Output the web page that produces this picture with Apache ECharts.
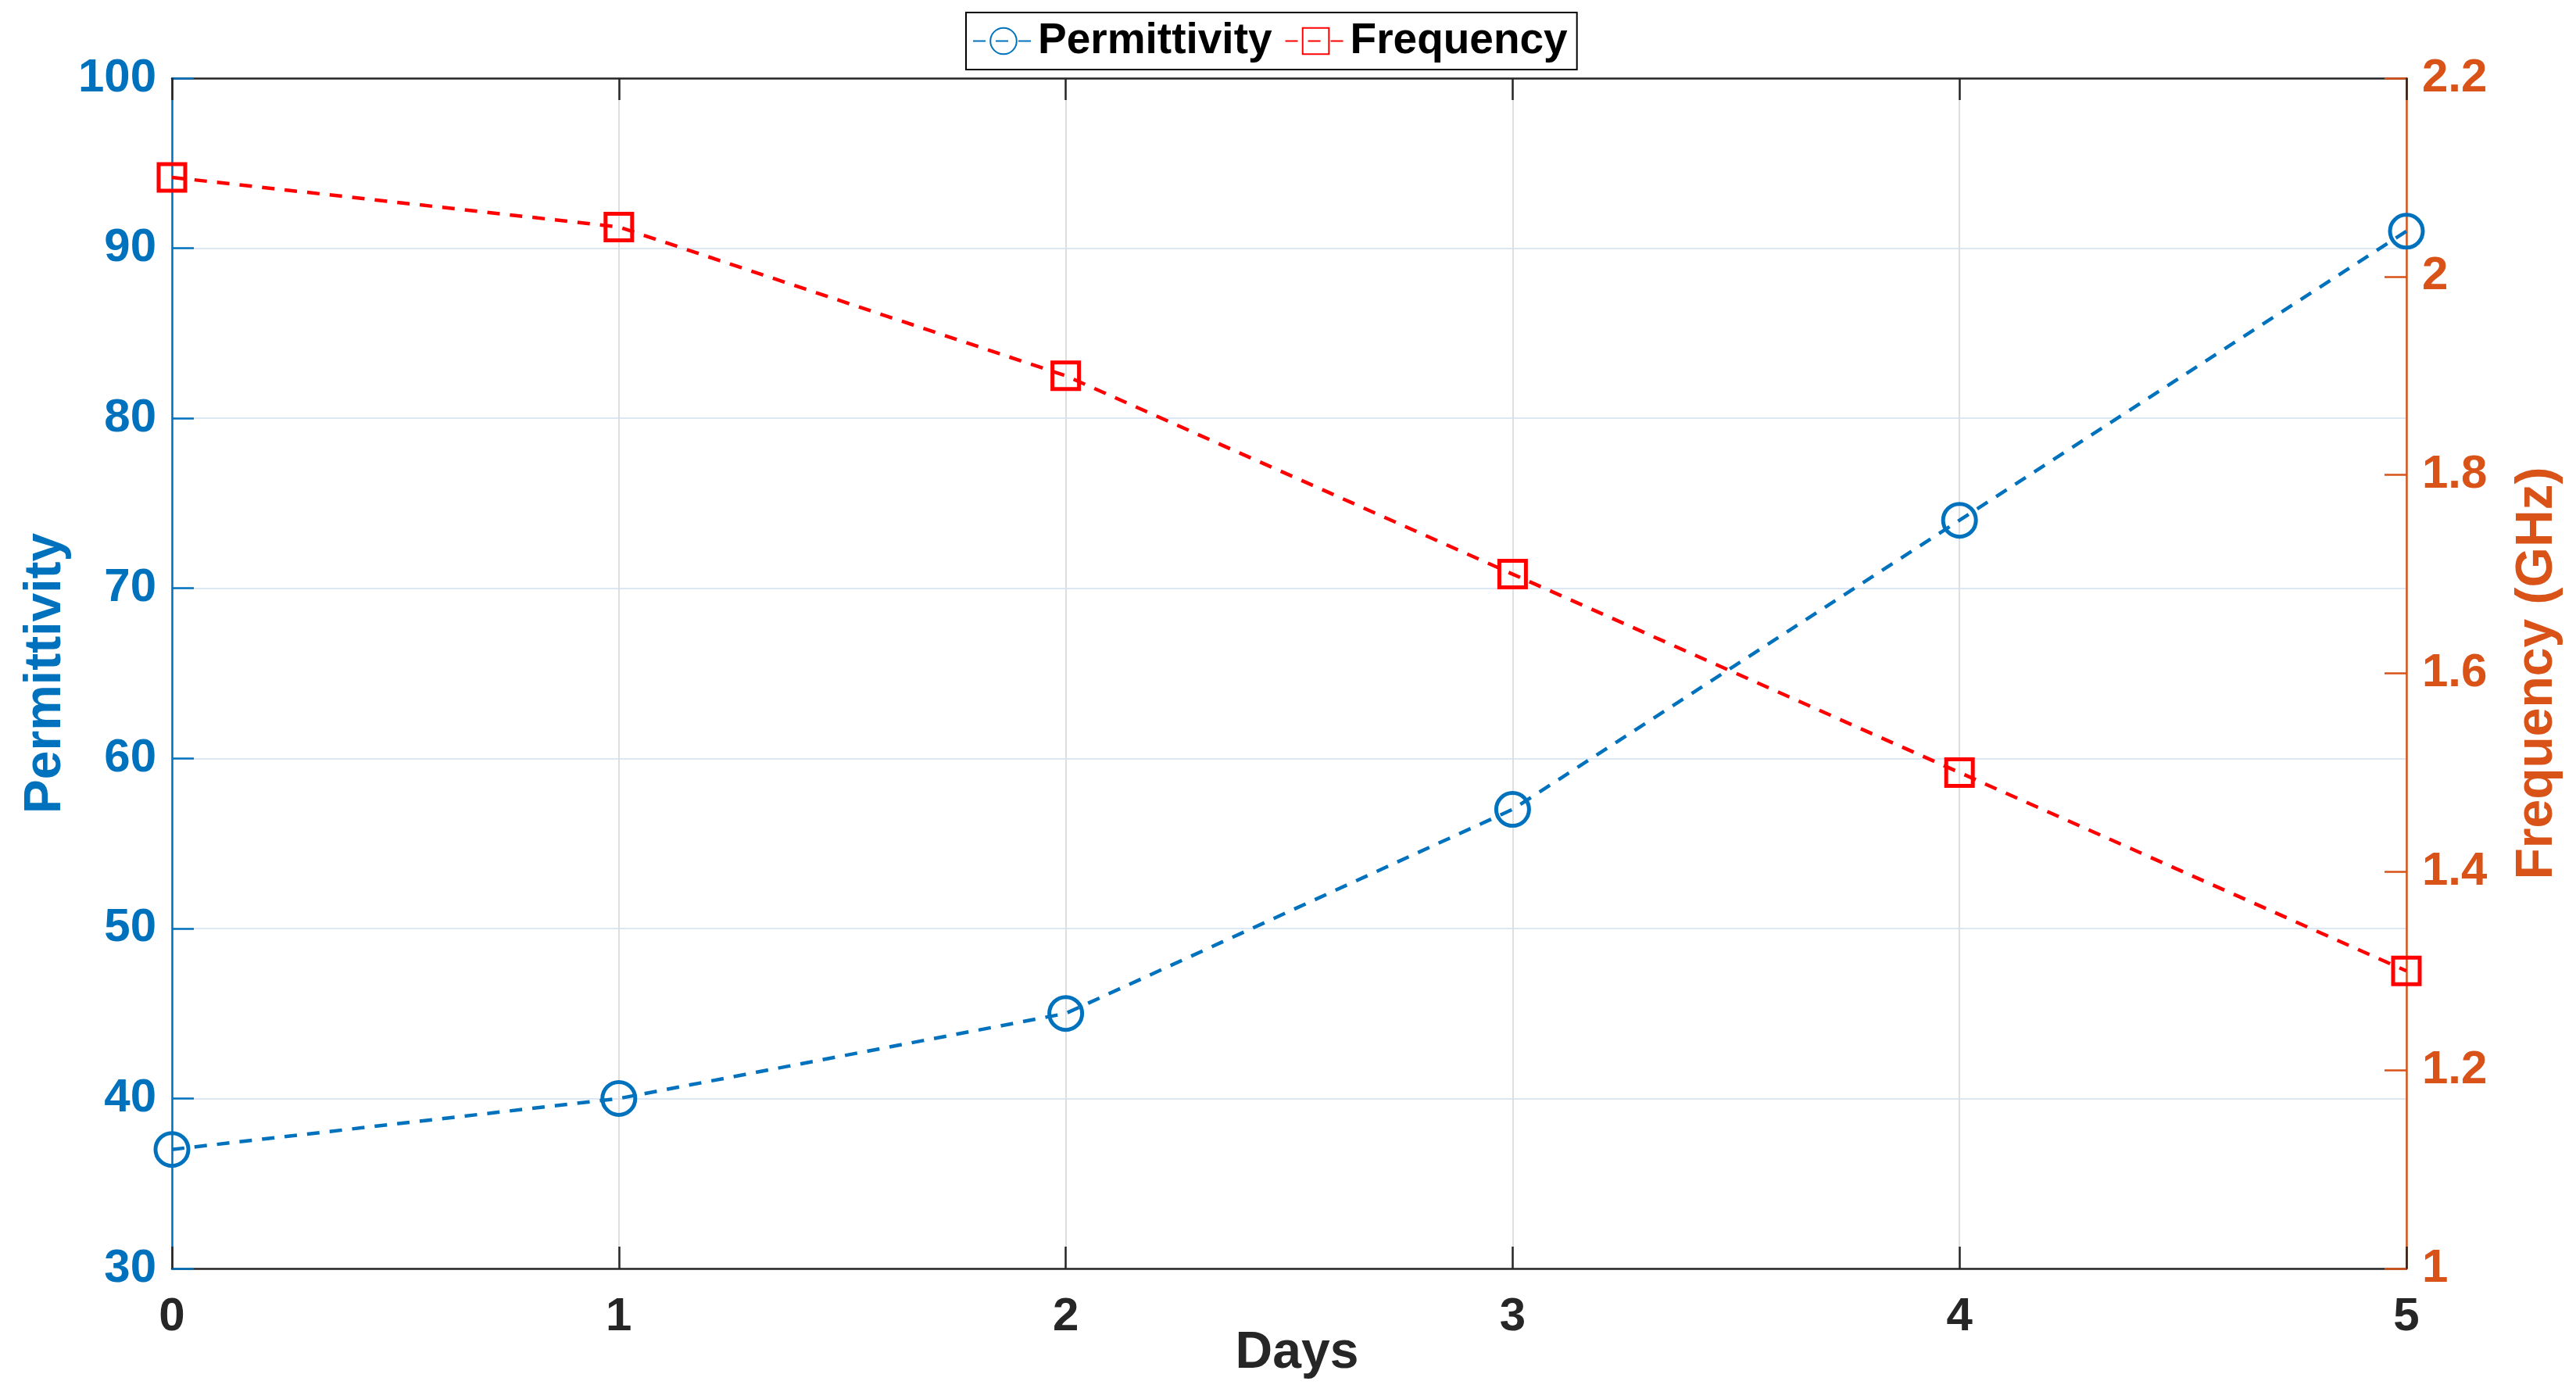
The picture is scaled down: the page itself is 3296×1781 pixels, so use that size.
<!DOCTYPE html>
<html>
<head>
<meta charset="utf-8">
<script src="https://cdn.jsdelivr.net/npm/echarts@6/dist/echarts.min.js"></script>
<style>html,body{margin:0;padding:0;background:#fff;}#chart{width:3296px;height:1781px;}</style>
</head>
<body>
<div id="chart"></div>
<script>
const days = [0, 1, 2, 3, 4, 5];
const permittivity = [37, 40, 45, 57, 74, 91];
const frequency = [2.1, 2.05, 1.9, 1.7, 1.5, 1.3];
const seriesNames = ['Permittivity', 'Frequency'];

const FONT = '"Liberation Sans", Arial, Helvetica, sans-serif';
const BLUE = '#0072BD', ORANGE = '#D95319', RED = '#FF0000', DARK = '#262626';

const chart = echarts.init(document.getElementById('chart'), null, {renderer: 'canvas'});
chart.setOption({
  animation: false,
  backgroundColor: '#fff',
  textStyle: {fontFamily: FONT},
  legend: {
    data: seriesNames,
    left: 1236, top: 16,
    padding: [9, 12, 9, 8],
    itemGap: 16,
    itemWidth: 78, itemHeight: 42,
    backgroundColor: '#fff',
    borderColor: '#000', borderWidth: 2,
    textStyle: {fontSize: 55, fontWeight: 'bold', color: '#000', fontFamily: FONT}
  },
  grid: {left: 220, right: 217, top: 100, bottom: 158, containLabel: false},
  xAxis: [{
    type: 'value', min: 0, max: 5, interval: 1,
    name: 'Days', nameLocation: 'middle', nameGap: 76, nameMoveOverlap: false,
    nameTextStyle: {fontSize: 66, fontWeight: 'bold', color: DARK, fontFamily: FONT, padding: [0, 0, 0, 20]},
    axisLine: {show: true, onZero: false, lineStyle: {color: DARK, width: 2.5}},
    axisTick: {show: true, inside: true, length: 28, lineStyle: {color: DARK, width: 2.5}},
    axisLabel: {fontSize: 60, fontWeight: 'bold', color: DARK, margin: 32, fontFamily: FONT},
    splitLine: {show: true, lineStyle: {color: '#dedede', width: 2}}
  }, {
    type: 'value', min: 0, max: 5, interval: 1, position: 'top',
    axisLine: {show: true, onZero: false, lineStyle: {color: DARK, width: 2.5}},
    axisTick: {show: true, inside: true, length: 28, lineStyle: {color: DARK, width: 2.5}},
    axisLabel: {show: false},
    splitLine: {show: false}
  }],
  yAxis: [{
    type: 'value', min: 30, max: 100, interval: 10, position: 'left',
    name: 'Permittivity', nameLocation: 'middle', nameGap: 128, nameMoveOverlap: false,
    nameTextStyle: {fontSize: 66, fontWeight: 'bold', color: BLUE, fontFamily: FONT},
    axisLine: {show: true, onZero: false, lineStyle: {color: BLUE, width: 2.5}},
    axisTick: {show: true, inside: true, length: 28, lineStyle: {color: BLUE, width: 2.5}},
    axisLabel: {fontSize: 60, fontWeight: 'bold', color: BLUE, margin: 20, fontFamily: FONT},
    splitLine: {show: true, lineStyle: {color: '#dbe8f4', width: 2}}
  }, {
    type: 'value', min: 1, max: 2.2, interval: 0.2, position: 'right',
    name: 'Frequency (GHz)', nameLocation: 'middle', nameGap: 135, nameMoveOverlap: false,
    nameTextStyle: {fontSize: 66, fontWeight: 'bold', color: ORANGE, fontFamily: FONT},
    axisLine: {show: true, onZero: false, lineStyle: {color: ORANGE, width: 2.5}},
    axisTick: {show: true, inside: true, length: 28, lineStyle: {color: ORANGE, width: 2.5}},
    axisLabel: {fontSize: 60, fontWeight: 'bold', color: ORANGE, margin: 20, fontFamily: FONT,
      formatter: v => String(Math.round(v * 10) / 10)},
    splitLine: {show: false}
  }],
  series: [{
    name: seriesNames[0], type: 'line', xAxisIndex: 0, yAxisIndex: 0,
    data: days.map((d, i) => [d, permittivity[i]]),
    clip: false,
    symbol: 'circle', symbolSize: 42,
    lineStyle: {color: BLUE, width: 4.5, type: [16, 13]},
    itemStyle: {color: 'rgba(255,255,255,0)', borderColor: BLUE, borderWidth: 5},
    z: 3
  }, {
    name: seriesNames[1], type: 'line', xAxisIndex: 0, yAxisIndex: 1,
    data: days.map((d, i) => [d, frequency[i]]),
    clip: false,
    symbol: 'rect', symbolSize: 34,
    lineStyle: {color: RED, width: 4.5, type: [16, 13]},
    itemStyle: {color: 'rgba(255,255,255,0)', borderColor: RED, borderWidth: 5},
    z: 3
  }]
});
</script>
</body>
</html>
